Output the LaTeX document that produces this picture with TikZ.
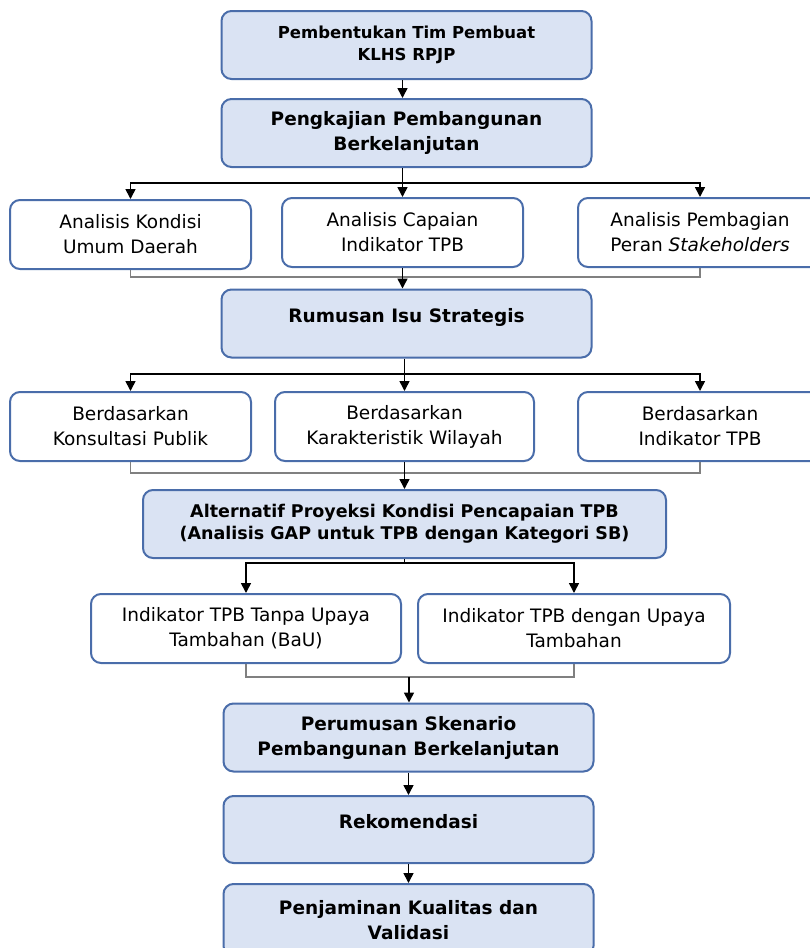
\documentclass[tikz,border=0pt]{standalone}
\usepackage{fontspec}
\setmainfont{DejaVu Sans}
\usetikzlibrary{arrows.meta}
\definecolor{boxline}{HTML}{4A6DAA}
\definecolor{boxfill}{HTML}{DAE3F3}
\tikzset{mainbox/.style={draw=boxline, fill=boxfill, line width=2pt, rounded corners=10pt, minimum width=370pt, minimum height=68pt, inner sep=0pt, align=center, font=\fontsize{18.5}{25}\selectfont\bfseries},
   subbox/.style={draw=boxline, fill=white, line width=2pt, rounded corners=10pt, minimum height=69pt, inner sep=0pt, align=center, font=\fontsize{18.5}{25}\selectfont},
   link/.style={black, line width=1.6pt, -{Triangle[length=10pt,width=10pt]}},
   bracket/.style={gray, line width=1.5pt}}

\begin{document}
\begin{tikzpicture}[x=1pt,y=-1pt]
   \useasboundingbox (0,0) rectangle (809,948);
   \node[mainbox, font=\fontsize{16.5}{22}\selectfont\bfseries] (tim) at (406.5,45) {Pembentukan Tim Pembuat\\KLHS RPJP};
   \node[mainbox] (kaji) at (406.5,133) {Pengkajian Pembangunan\\Berkelanjutan};
   \node[subbox, minimum width=241pt] (kondisi) at (130.5,234.5) {Analisis Kondisi\\Umum Daerah};
   \node[subbox, minimum width=241pt] (capaian) at (402.5,232.5) {Analisis Capaian\\Indikator TPB};
   \node[subbox, minimum width=244pt] (peran) at (700,232.5) {Analisis Pembagian\\Peran \textit{Stakeholders}};
   \node[mainbox, text depth=16pt] (isu) at (406.5,323.5) {Rumusan Isu Strategis};
   \node[subbox, minimum width=241pt] (publik) at (130.5,426.5) {Berdasarkan\\Konsultasi Publik};
   \node[subbox, minimum width=259pt] (wilayah) at (404.5,426.5) {Berdasarkan\\Karakteristik Wilayah};
   \node[subbox, minimum width=244pt] (indikator) at (700,426.5) {Berdasarkan\\Indikator TPB};
   \node[mainbox, minimum width=523pt, font=\fontsize{17.5}{22}\selectfont\bfseries] (proyeksi) at (404.5,524) {Alternatif Proyeksi Kondisi Pencapaian TPB\\(Analisis GAP untuk TPB dengan Kategori SB)};
   \node[subbox, minimum width=310pt] (bau) at (246,628.5) {Indikator TPB Tanpa Upaya\\Tambahan (BaU)};
   \node[subbox, minimum width=312pt] (upaya) at (574,628.5) {Indikator TPB dengan Upaya\\Tambahan};
   \node[mainbox] (skenario) at (408.5,737.5) {Perumusan Skenario\\Pembangunan Berkelanjutan};
   \node[mainbox, minimum height=67pt, text depth=16pt] (rekom) at (408.5,829.5) {Rekomendasi};
   \node[mainbox, minimum height=72pt] (validasi) at (408.5,920) {Penjaminan Kualitas dan\\Validasi};

   \coordinate (pisah1) at (402.5,183);
   \coordinate (gabung1) at (402.5,277);
   \coordinate (pisah2) at (404.5,374);
   \coordinate (gabung2) at (404.5,473);
   \coordinate (pisah3) at (404.5,563);
   \coordinate (gabung3) at (409,677);

   \draw[link] (tim.south -| capaian) -- (kaji.north -| capaian);
   \draw[line width=1.6pt] (kaji.south -| pisah1) -- (pisah1);
   \draw[link] (pisah1) -| (kondisi);
   \draw[link] (pisah1) -- (capaian);
   \draw[link] (pisah1) -| (peran);
   \draw[bracket] (kondisi.south) |- (gabung1) -| (peran.south);
   \draw[link] (capaian.south) -- (capaian.south |- isu.north);

   \draw[line width=1.6pt] (isu.south -| pisah2) -- (pisah2);
   \draw[link] (pisah2) -| (publik);
   \draw[link] (pisah2) -- (wilayah);
   \draw[link] (pisah2) -| (indikator);
   \draw[bracket] (publik.south) |- (gabung2) -| (indikator.south);
   \draw[link] (wilayah.south) -- (wilayah.south |- proyeksi.north);

   \draw[line width=1.6pt] (proyeksi.south -| pisah3) -- (pisah3);
   \draw[link] (pisah3) -| (bau);
   \draw[link] (pisah3) -| (upaya);
   \draw[bracket] (bau.south) |- (gabung3) -| (upaya.south);
   \draw[link] (gabung3) -- (gabung3 |- skenario.north);

   \draw[link] (skenario) -- (rekom);
   \draw[link] (rekom) -- (validasi);
\end{tikzpicture}
\end{document}
